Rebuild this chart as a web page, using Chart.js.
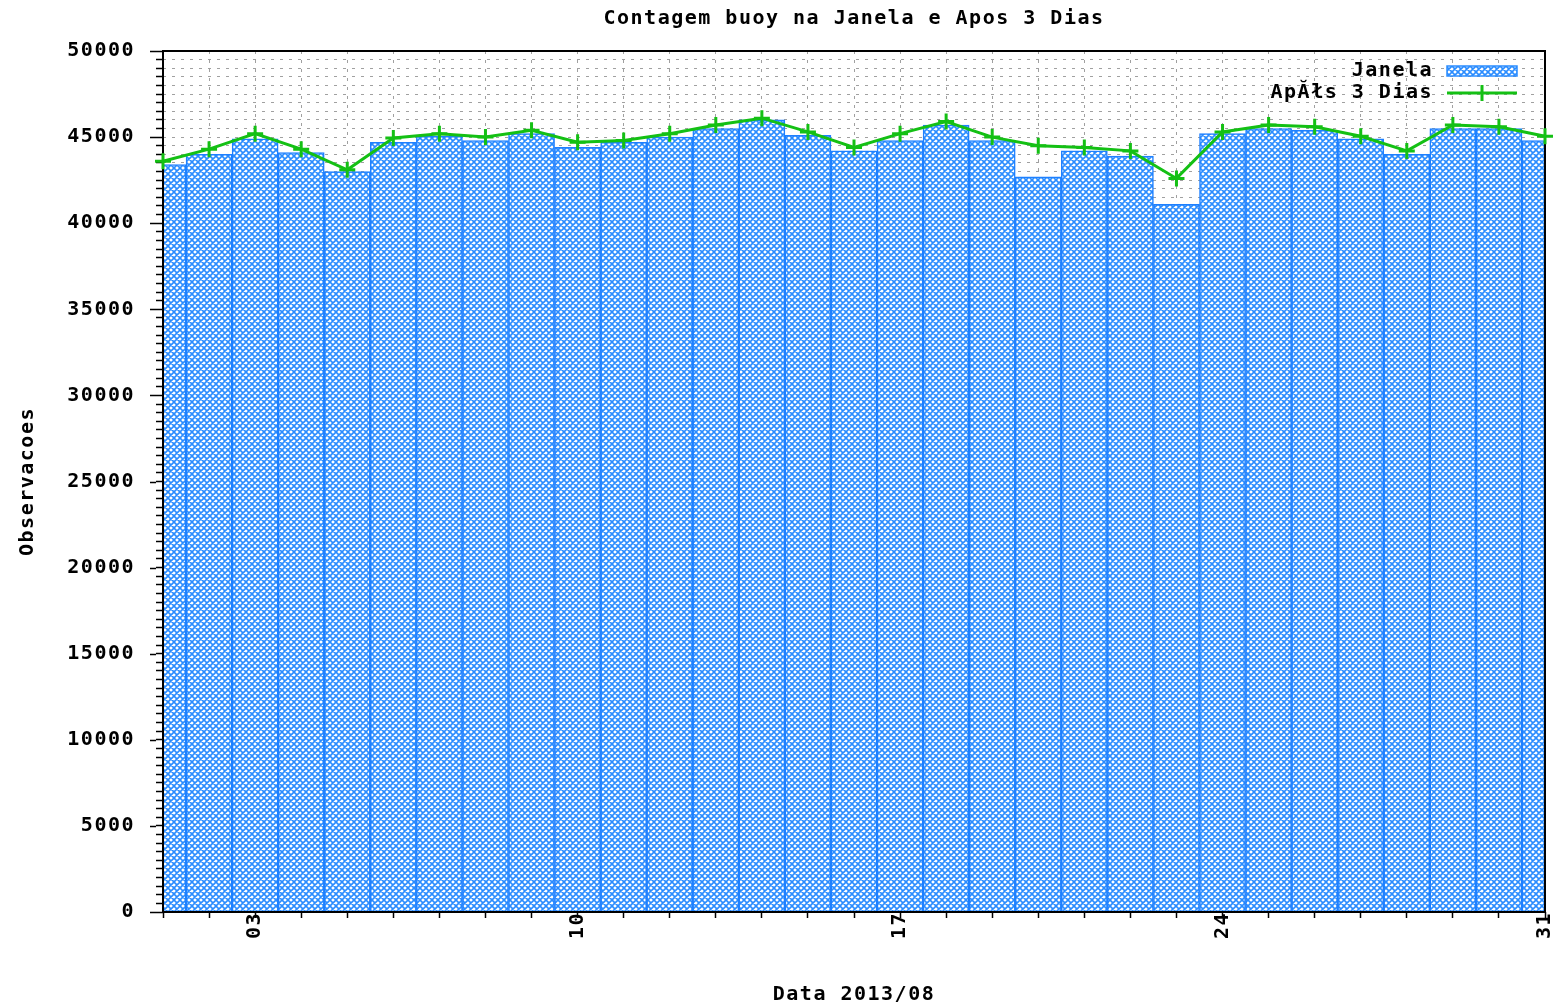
<!DOCTYPE html>
<html lang="pt">
<head>
<meta charset="UTF-8">
<title>Contagem buoy na Janela e Apos 3 Dias</title>
<script src="https://cdn.jsdelivr.net/npm/chart.js"></script>
<style>
  html, body { margin: 0; padding: 0; background: #fff; }
</style>
</head>
<body>
<canvas id="grafico" width="1559" height="1007"></canvas>
<script>
// dias de agosto 2013
const dias = [1, 2, 3, 4, 5, 6, 7, 8, 9, 10, 11, 12, 13, 14, 15, 16,
              17, 18, 19, 20, 21, 22, 23, 24, 25, 26, 27, 28, 29, 30, 31];
// observacoes dentro da janela (barras)
const janela = [43400, 44000, 44900, 44100, 43000, 44700, 45050, 44800, 45200, 44400,
                44700, 45000, 45500, 46000, 45100, 44200, 44800, 45700, 44800, 42700,
                44200, 43900, 41100, 45200, 45500, 45400, 44900, 44000, 45500, 45500, 44800];
// observacoes apos 3 dias (linha)
const apos3Dias = [43600, 44300, 45200, 44300, 43100, 44950, 45200, 45000, 45400, 44700,
                   44800, 45200, 45700, 46100, 45300, 44400, 45200, 45900, 45000, 44500,
                   44400, 44200, 42600, 45300, 45700, 45600, 45050, 44200, 45700, 45600, 45050];
const diasRotulados = [3, 10, 17, 24, 31];
const yMax = 50000;
const yPasso = 500;      // ticks menores
const yPassoRotulo = 5000;

const fonte = { family: '"DejaVu Sans Mono", monospace', size: 20, weight: 'bold' };
const azul = '#2a8cff';
const verde = '#14c014';

function padraoXadrez() {
  const c = document.createElement('canvas');
  c.width = 6; c.height = 6;
  const g = c.getContext('2d');
  g.fillStyle = '#ffffff';
  g.fillRect(0, 0, 6, 6);
  g.strokeStyle = azul;
  g.lineWidth = 1.6;
  g.beginPath();
  for (const o of [-6, 0, 6]) {
    g.moveTo(o, 0); g.lineTo(o + 6, 6);
    g.moveTo(o + 6, 0); g.lineTo(o, 6);
  }
  g.stroke();
  return g.createPattern(c, 'repeat');
}
const padrao = padraoXadrez();

// espacamento de letras para imitar a fonte larga do gnuplot
const espacamento = {
  id: 'espacamento',
  beforeUpdate(chart) { chart.ctx.letterSpacing = '1.5px'; },
  beforeDraw(chart) { chart.ctx.letterSpacing = '1.5px'; }
};

// moldura e ticks maiores
const moldura = {
  id: 'moldura',
  afterDatasetDraw(chart, args) {
    if (args.meta.type !== 'bar') return;
    const a = chart.chartArea;
    const ctx = chart.ctx;
    ctx.save();
    ctx.strokeStyle = '#000';
    ctx.lineWidth = 2;
    ctx.strokeRect(a.left, a.top, a.right - a.left, a.bottom - a.top);
    // ticks maiores do eixo y
    const y = chart.scales.y;
    ctx.lineWidth = 1.5;
    ctx.beginPath();
    for (let v = 0; v <= yMax; v += yPassoRotulo) {
      const py = Math.round(y.getPixelForValue(v)) + 0.5;
      ctx.moveTo(a.left - 13, py);
      ctx.lineTo(a.left - 7, py);
    }
    ctx.stroke();
    ctx.restore();
  }
};

const legenda = {
  id: 'legenda',
  afterDraw(chart) {
    const a = chart.chartArea;
    const ctx = chart.ctx;
    const xTexto = a.right - 112;
    const x1 = a.right - 98, x2 = a.right - 28;
    const y1 = a.top + 20, y2 = a.top + 42;
    ctx.save();
    ctx.font = 'bold 20px "DejaVu Sans Mono", monospace';
    ctx.fillStyle = '#000';
    ctx.textAlign = 'right';
    ctx.textBaseline = 'middle';
    ctx.fillText(chart.data.datasets[1].label, xTexto, y1);
    ctx.fillText(chart.data.datasets[0].label, xTexto, y2);
    ctx.fillStyle = padrao;
    ctx.fillRect(x1, y1 - 5, x2 - x1, 10);
    ctx.strokeStyle = azul;
    ctx.lineWidth = 1.5;
    ctx.strokeRect(x1, y1 - 5, x2 - x1, 10);
    ctx.strokeStyle = verde;
    ctx.lineWidth = 3;
    ctx.beginPath();
    ctx.moveTo(x1, y2); ctx.lineTo(x2, y2);
    const xm = (x1 + x2) / 2;
    ctx.moveTo(xm, y2 - 8); ctx.lineTo(xm, y2 + 8);
    ctx.stroke();
    ctx.restore();
  }
};

new Chart(document.getElementById('grafico'), {
  data: {
    labels: dias,
    datasets: [
      {
        type: 'line',
        label: 'ApĂłs 3 Dias',
        data: apos3Dias,
        order: 1,
        borderColor: verde,
        borderWidth: 3,
        tension: 0,
        pointStyle: 'cross',
        pointRadius: 8,
        pointBorderWidth: 3,
        pointBorderColor: verde,
        clip: false
      },
      {
        type: 'bar',
        label: 'Janela',
        data: janela,
        order: 2,
        backgroundColor: padrao,
        borderColor: '#1e80ff',
        borderWidth: 1.5,
        barPercentage: 1,
        categoryPercentage: 1,
        clip: 0
      }
    ]
  },
  options: {
    responsive: false,
    animation: false,
    layout: { padding: { left: 0, right: 14, top: 0, bottom: 0 } },
    plugins: {
      legend: { display: false },
      tooltip: { enabled: false },
      title: {
        display: true,
        fullSize: false,
        text: 'Contagem buoy na Janela e Apos 3 Dias',
        color: '#000',
        font: fonte,
        padding: { top: 7, bottom: 20 }
      }
    },
    scales: {
      x: {
        type: 'linear',
        min: 1,
        max: 31,
        offset: false,
        afterBuildTicks: s => { s.ticks = dias.map(d => ({ value: d })); },
        afterFit: s => { s.height = 95; s.paddingLeft = 0; s.paddingRight = 0; },
        ticks: {
          autoSkip: false,
          minRotation: 90,
          maxRotation: 90,
          padding: -6,
          z: 1,
          color: '#000',
          font: fonte,
          callback: v => diasRotulados.includes(v) ? String(v).padStart(2, '0') : ''
        },
        grid: { offset: false, color: '#a0a0a0', lineWidth: 1, tickLength: 6, tickColor: '#000', tickWidth: 1.5 },
        border: { display: false, dash: [3, 6] },
        title: { display: true, text: 'Data 2013/08', color: '#000', font: fonte, padding: { top: 0, bottom: 0 } }
      },
      y: {
        min: 0,
        max: yMax,
        afterBuildTicks: s => {
          const t = [];
          for (let v = 0; v <= yMax; v += yPasso) t.push({ value: v });
          s.ticks = t;
        },
        afterFit: s => { s.width = 163; },
        ticks: {
          autoSkip: false,
          padding: 21,
          color: '#000',
          font: fonte,
          callback: v => v % yPassoRotulo === 0 ? String(v) : ''
        },
        grid: { color: '#a0a0a0', lineWidth: 1, tickLength: 7, tickColor: '#000', tickWidth: 1.5 },
        border: { display: false, dash: [3, 6] },
        title: { display: true, text: 'Observacoes', color: '#000', font: fonte, padding: { top: 16, bottom: 0 } }
      }
    }
  },
  plugins: [espacamento, moldura, legenda]
});
</script>
</body>
</html>
